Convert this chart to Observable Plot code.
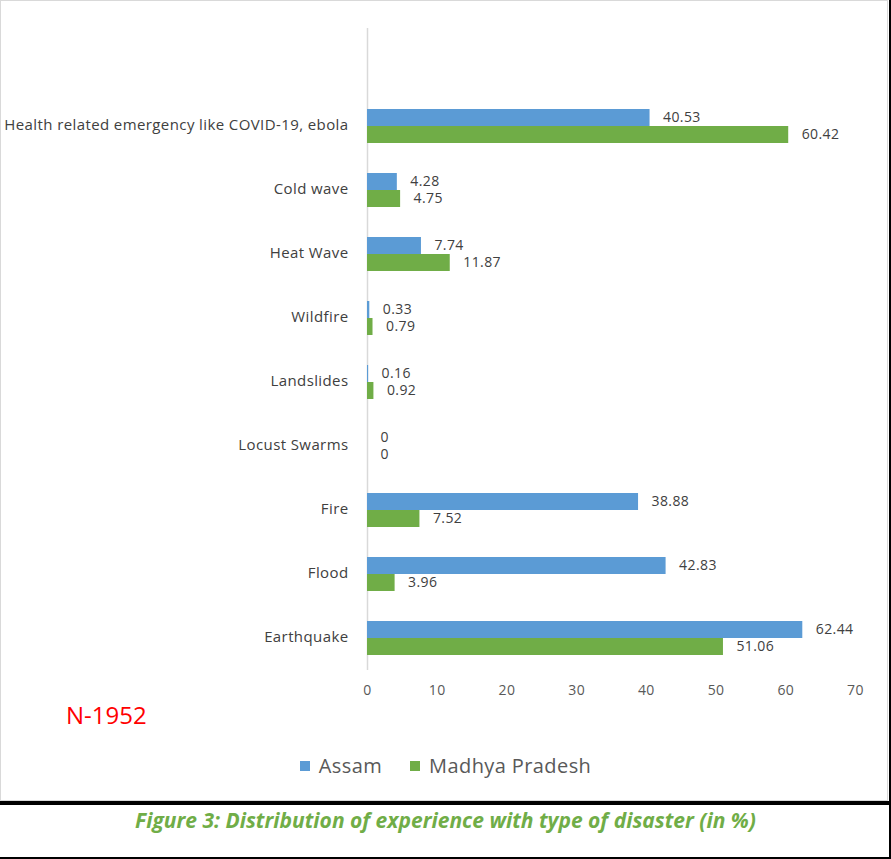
<!DOCTYPE html>
<html>
<head>
<meta charset="utf-8">
<script src="https://cdn.jsdelivr.net/npm/d3@7"></script>
<script src="https://cdn.jsdelivr.net/npm/@observablehq/plot@0.6"></script>
<style>
  html, body { margin: 0; padding: 0; background: #fff; }
  #wrap { position: relative; width: 891px; height: 859px; overflow: hidden; font-family: "Open Sans", sans-serif; }
  #box { position: absolute; left: 0; top: 0; width: 888px; height: 801px; box-sizing: border-box; border: 1px solid #d9d9d9; }
  #chart { position: absolute; left: 0; top: 0; }
  #chart svg text { letter-spacing: 0.4px; }
  #note { position: absolute; left: 66px; top: 700px; color: #ff0000; font-size: 24px; line-height: 30px; }
  #legend { position: absolute; left: 0; width: 891px; top: 752px; display: flex; justify-content: center; align-items: center; color: #595959; font-size: 20px; line-height: 28px; letter-spacing: 0.4px; }
  .item { display: flex; align-items: center; margin: 0 14px; }
  .sw { width: 10px; height: 10px; margin-right: 9px; }
  #topbar { position: absolute; left: 0; top: 801px; width: 891px; height: 4px; background: #000; }
  #rightbar { position: absolute; left: 889px; top: 0; width: 2px; height: 859px; background: #000; }
  #bottombar { position: absolute; left: 0; top: 857px; width: 891px; height: 2px; background: #000; }
  #caption { position: absolute; left: 0; width: 891px; top: 805px; text-align: center; color: #70AD47; font-weight: bold; font-style: italic; font-size: 21px; line-height: 30px; }
</style>
</head>
<body>
<div id="wrap">
  <div id="box"></div>
  <div id="chart"></div>
  <div id="note"></div>
  <div id="legend"></div>
  <div id="topbar"></div>
  <div id="rightbar"></div>
  <div id="bottombar"></div>
  <div id="caption"></div>
</div>
<script>
const categories = [
  "Health related emergency like COVID-19, ebola",
  "Cold wave",
  "Heat Wave",
  "Wildfire",
  "Landslides",
  "Locust Swarms",
  "Fire",
  "Flood",
  "Earthquake"
];
const assam = [40.53, 4.28, 7.74, 0.33, 0.16, 0, 38.88, 42.83, 62.44];
const madhyaPradesh = [60.42, 4.75, 11.87, 0.79, 0.92, 0, 7.52, 3.96, 51.06];
const seriesNames = ["Assam", "Madhya Pradesh"];
const seriesColors = ["#5B9BD5", "#70AD47"];
const xTicks = [0, 10, 20, 30, 40, 50, 60, 70];
const sampleNote = "N-1952";
const captionText = "Figure 3: Distribution of experience with type of disaster (in %)";

const data = categories.map((c, i) => ({category: c, a: assam[i], m: madhyaPradesh[i]}));

const chart = Plot.plot({
  width: 891,
  height: 720,
  marginLeft: 367,
  marginRight: 36,
  marginTop: 28,
  marginBottom: 50,
  style: {fontFamily: "'Open Sans', sans-serif", color: "#595959", background: "transparent"},
  x: {domain: [0, 70]},
  y: {domain: [" ", ...categories], padding: 0},
  marks: [
    Plot.ruleX([0], {stroke: "#d9d9d9", strokeWidth: 1.5}),
    Plot.barX(data, {y: "category", x: "a", fill: seriesColors[0], insetTop: 16, insetBottom: 31}),
    Plot.barX(data, {y: "category", x: "m", fill: seriesColors[1], insetTop: 33, insetBottom: 14}),
    Plot.text(data, {y: "category", x: "a", text: d => String(d.a), dx: 13, dy: -8, textAnchor: "start", fill: "#404040", fontSize: 14}),
    Plot.text(data, {y: "category", x: "m", text: d => String(d.m), dx: 13, dy: 9, textAnchor: "start", fill: "#404040", fontSize: 14}),
    Plot.axisX({anchor: "bottom", ticks: xTicks, tickSize: 0, tickPadding: 15, fontSize: 14, tickFormat: d => String(d), label: null}),
    Plot.axisY({anchor: "left", tickSize: 0, tickPadding: 19, fontSize: 15, fill: "#404040", label: null})
  ]
});
document.getElementById("chart").appendChild(chart);

document.getElementById("note").textContent = sampleNote;
document.getElementById("caption").textContent = captionText;

const legend = document.getElementById("legend");
seriesNames.forEach((name, i) => {
  const item = document.createElement("div");
  item.className = "item";
  const sw = document.createElement("span");
  sw.className = "sw";
  sw.style.background = seriesColors[i];
  const label = document.createElement("span");
  label.textContent = name;
  item.appendChild(sw);
  item.appendChild(label);
  legend.appendChild(item);
});
</script>
</body>
</html>
